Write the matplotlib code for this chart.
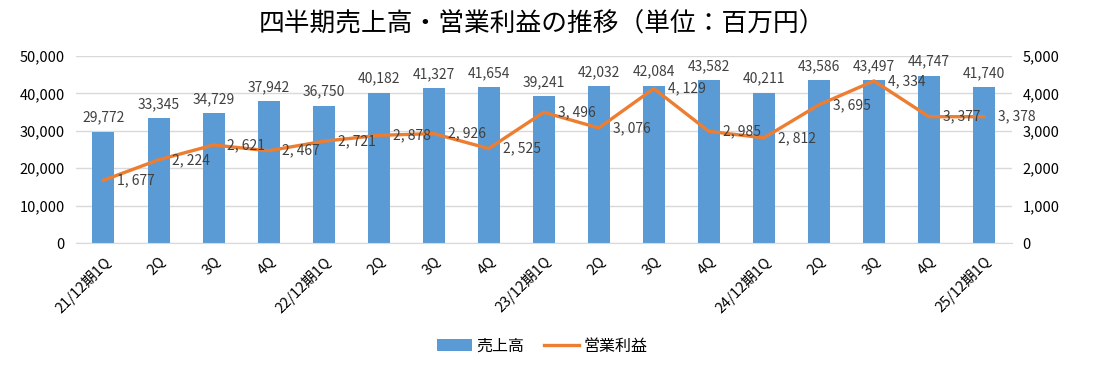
import numpy as np
import matplotlib.pyplot as plt
from matplotlib.ticker import FuncFormatter

plt.rcParams['font.family'] = ['Noto Sans CJK JP', 'DejaVu Sans']

# quarters and values (million yen)
quarters = ['21/12期1Q', '2Q', '3Q', '4Q',
            '22/12期1Q', '2Q', '3Q', '4Q',
            '23/12期1Q', '2Q', '3Q', '4Q',
            '24/12期1Q', '2Q', '3Q', '4Q',
            '25/12期1Q']
sales = [29772, 33345, 34729, 37942, 36750, 40182, 41327, 41654, 39241,
         42032, 42084, 43582, 40211, 43586, 43497, 44747, 41740]
op_profit = [1677, 2224, 2621, 2467, 2721, 2878, 2926, 2525, 3496,
             3076, 4129, 2985, 2812, 3695, 4334, 3377, 3378]

bar_color = '#5B9BD5'
line_color = '#ED7D31'
grid_color = '#D9D9D9'

fig = plt.figure(figsize=(10.93, 3.71), dpi=100)
ax = fig.add_axes([0.0695, 0.345, 0.856, 0.504])
ax2 = ax.twinx()

x = np.arange(len(quarters))
bars = ax.bar(x, sales, width=0.4, color=bar_color, zorder=2, label='売上高')
ln, = ax2.plot(x, op_profit, color=line_color, lw=2.4, zorder=3, label='営業利益')

ax.set_xlim(-0.5, len(quarters) - 0.5)
ax.set_ylim(0, 50000)
ax2.set_ylim(0, 5000)
ax.set_yticks(np.arange(0, 50001, 10000))
ax2.set_yticks(np.arange(0, 5001, 1000))
fmt = FuncFormatter(lambda v, p: f'{int(v):,}')
ax.yaxis.set_major_formatter(fmt)
ax2.yaxis.set_major_formatter(fmt)

ax.grid(axis='y', color=grid_color, lw=1, zorder=0)
for a in (ax, ax2):
    for s in a.spines.values():
        s.set_visible(False)
    a.tick_params(length=0, labelsize=10.5)
ax.spines['bottom'].set_visible(True)
ax.spines['bottom'].set_color(grid_color)
ax.tick_params(axis='y', pad=8)
ax2.tick_params(axis='y', pad=8)

ax.set_xticks(x)
ax.set_xticklabels(quarters, rotation=45, ha='right', rotation_mode='anchor', fontsize=10.5)
ax.tick_params(axis='x', pad=8)

# data labels
for xi, v in zip(x, sales):
    ax.annotate(f'{v:,}', (xi, v), xytext=(0, 5), textcoords='offset points',
                ha='center', va='bottom', fontsize=10, color='#404040')
for xi, v in zip(x, op_profit):
    s = f'{v:,}'.replace(',', ', ')
    ax2.annotate(s, (xi, v), xytext=(10, 0), textcoords='offset points',
                 ha='left', va='center', fontsize=10, color='#404040', zorder=4)

fig.text(0.496, 0.933, '四半期売上高・営業利益の推移（単位：百万円）',
         ha='center', va='center', fontsize=18.5)

fig.legend([bars, ln], ['売上高', '営業利益'], loc='center', bbox_to_anchor=(0.496, 0.067),
           ncol=2, frameon=False, fontsize=11.5, handlelength=2.2, handletextpad=0.3,
           columnspacing=1.2)

fig.savefig('out.png', dpi=100)
